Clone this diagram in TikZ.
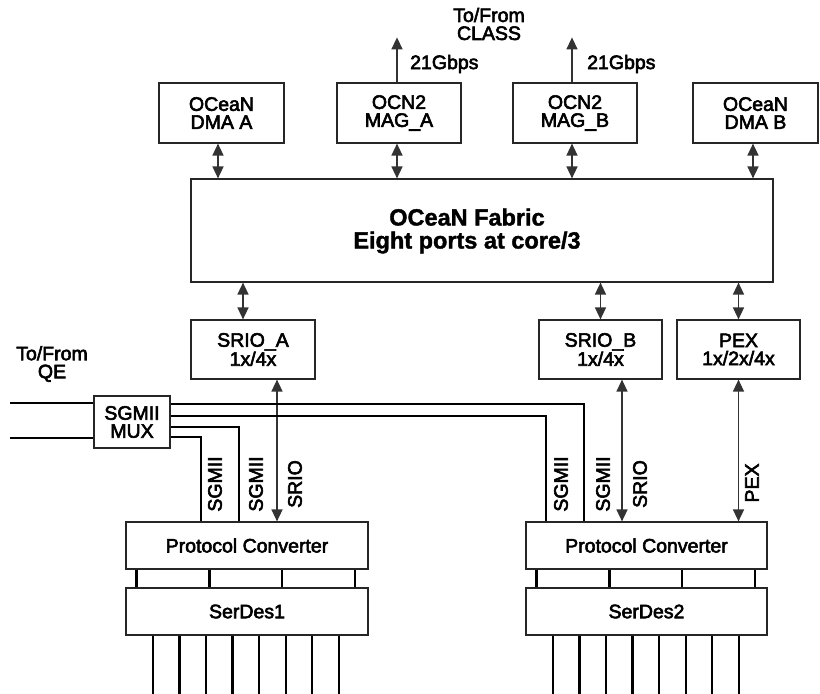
\documentclass[tikz,border=0pt]{standalone}
\usepackage{fontspec}
\setmainfont{Liberation Sans}
\newfontfamily\medium{Liberation Sans}[FakeBold=3]
\newfontfamily\heavy{Liberation Sans}[BoldFeatures={FakeBold=1.5}]
\usetikzlibrary{arrows.meta}
\tikzset{
  box/.style={draw=black!85, line width=1.2pt, fill=white, inner sep=0pt, align=center,
              font=\medium\fontsize{19.5}{18}\selectfont},
  fabbox/.style={draw=black!85, line width=1.2pt, fill=white, inner sep=0pt},
  dbl/.style={line width=1.5pt, draw=black!80,
              {Triangle[length=12pt,width=11pt]}-{Triangle[length=12pt,width=11pt]}},
  uparrow/.style={line width=1.5pt, draw=black!80, -{Triangle[length=12pt,width=11pt]}},
  wire/.style={line width=2.8pt, draw=black},
  lbl/.style={inner sep=0pt, align=center, font=\medium\fontsize{19.5}{18}\selectfont},
}
\begin{document}
\begin{tikzpicture}[x=1pt,y=-1pt]
\useasboundingbox (0,0) rectangle (820,694);

% top boxes
\node[box, minimum width=125pt, minimum height=60pt] (dmaA) at (221.5,113) {OCeaN\\DMA A};
\node[box, minimum width=124pt, minimum height=60pt] (magA) at (399,113) {OCN2\\MAG\_A};
\node[box, minimum width=124pt, minimum height=60pt] (magB) at (575,113) {OCN2\\MAG\_B};
\node[box, minimum width=125pt, minimum height=60pt] (dmaB) at (755.5,113) {OCeaN\\DMA B};

% fabric
\node[fabbox, minimum width=582pt, minimum height=103pt] (fab) at (482,230.5) {};
\node[inner sep=0pt, align=center, font=\heavy\bfseries\fontsize{23.5}{23}\selectfont] (fabtxt) at (467,231)
  {OCeaN Fabric\\Eight ports at core/3};

% second row
\node[box, minimum width=124pt, minimum height=59pt] (srioA) at (253,349.5) {SRIO\_A\\1x/4x};
\node[box, minimum width=123pt, minimum height=59pt] (srioB) at (600.5,349.5) {SRIO\_B\\1x/4x};
\node[box, minimum width=123pt, minimum height=59pt] (pex) at (738.5,349.5) {PEX\\1x/2x/4x};

% mux
\node[box, minimum width=76pt, minimum height=52pt] (mux) at (132,422) {SGMII\\MUX};

% protocol converters and serdes
\node[box, minimum width=242pt, minimum height=47pt] (pc1) at (247,545.5) {Protocol Converter};
\node[box, minimum width=242pt, minimum height=47pt] (sd1) at (247,611.5) {SerDes1};
\node[box, minimum width=241pt, minimum height=47pt] (pc2) at (646.5,545.5) {Protocol Converter};
\node[box, minimum width=241pt, minimum height=47pt] (sd2) at (646.5,611.5) {SerDes2};

% texts
\node[lbl] (class) at (489,24) {To/From\\CLASS};
\node[lbl, anchor=west] (gA) at (410,64) {21Gbps};
\node[lbl, anchor=west] (gB) at (587,64) {21Gbps};
\node[lbl] (qe) at (52,364) {To/From\\QE};

% top arrows
\draw[uparrow] ([xshift=-2pt]magA.north) -- ++(0,-45);
\draw[uparrow] ([xshift=-3pt]magB.north) -- ++(0,-45);
\draw[dbl, transform canvas={xshift=-3.5pt}] (dmaA.south) -- (dmaA.south |- fab.north);
\draw[dbl, transform canvas={xshift=-2pt}] (magA.south) -- (magA.south |- fab.north);
\draw[dbl, transform canvas={xshift=-3pt}] (magB.south) -- (magB.south |- fab.north);
\draw[dbl, transform canvas={xshift=-2.5pt}] (dmaB.south) -- (dmaB.south |- fab.north);

% fabric to second row
\draw[dbl, transform canvas={xshift=-10pt}] (srioA.north |- fab.south) -- (srioA.north);
\draw[dbl] (srioB.north |- fab.south) -- (srioB.north);
\draw[dbl] (pex.north |- fab.south) -- (pex.north);

% second row down to protocol converters
\draw[dbl, transform canvas={xshift=24pt}] (srioA.south) -- (srioA.south |- pc1.north);
\draw[dbl, transform canvas={xshift=21.5pt}] (srioB.south) -- (srioB.south |- pc2.north);
\draw[dbl] (pex.south) -- (pex.south |- pc2.north);

% mux wires
\coordinate (q1) at (10,403);
\coordinate (q2) at (10,438);
\draw[wire] (q1) -- (q1 -| mux.west);
\draw[wire] (q2) -- (q2 -| mux.west);
\coordinate (w1) at (584,404);
\coordinate (w2) at (546,416);
\coordinate (w3) at (239,427);
\coordinate (w4) at (201,437);
\draw[wire] (mux.east |- w1) -| (w1 |- pc2.north);
\draw[wire] (mux.east |- w2) -| (w2 |- pc2.north);
\draw[wire] (mux.east |- w3) -| (w3 |- pc1.north);
\draw[wire] (mux.east |- w4) -| (w4 |- pc1.north);

% rotated labels
\node[lbl, rotate=90] (s1) at (215,484) {SGMII};
\node[lbl, rotate=90] (s2) at (256,484) {SGMII};
\node[lbl, rotate=90] (r1) at (295,484) {SRIO};
\node[lbl, rotate=90] (s3) at (561,484) {SGMII};
\node[lbl, rotate=90] (s4) at (603,484) {SGMII};
\node[lbl, rotate=90] (r2) at (640,484) {SRIO};
\node[lbl, rotate=90] (p1) at (752,483) {PEX};

% links between protocol converters and serdes
\foreach \dx in {11,84,156.5,229.5} {
  \draw[wire] ([xshift=\dx pt]pc1.south west) -- ([xshift=\dx pt]sd1.north west);
  \draw[wire] ([xshift=\dx pt]pc2.south west) -- ([xshift=\dx pt]sd2.north west);
}
% serdes lanes
\foreach \dx in {27.5,54,80.5,107,133.5,160.5,186.5,213.5} {
  \draw[wire] ([xshift=\dx pt]sd1.south west) -- ++(0,60);
  \draw[wire] ([xshift=\dx pt]sd2.south west) -- ++(0,60);
}
\end{tikzpicture}
\end{document}
